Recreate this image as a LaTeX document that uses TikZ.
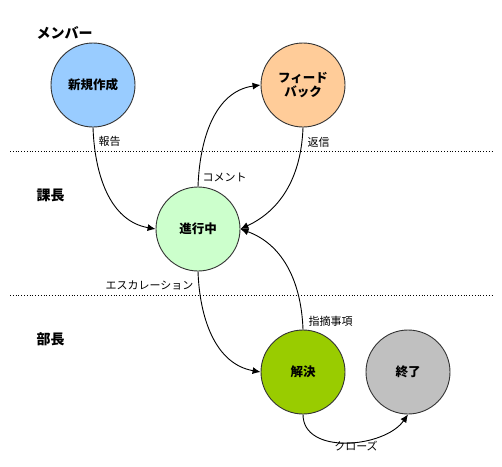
\documentclass[tikz,border=0pt]{standalone}
\usepackage{fontspec}
\setmainfont{Noto Sans CJK JP}
\usetikzlibrary{arrows.meta}
\begin{document}
\begin{tikzpicture}[x=1pt,y=-1pt,
  state/.style={circle,draw=black!80,line width=0.9pt,minimum size=84pt,inner sep=0pt,
    font=\fontsize{12.5}{14.5}\selectfont\bfseries,align=center},
  lane/.style={anchor=west,font=\fontsize{14}{16}\selectfont\bfseries},
  elabel/.style={font=\fontsize{11}{12}\selectfont},
  conn/.style={line width=0.9pt,-{Latex[length=8pt,width=7pt]}},
  sep/.style={dotted,line width=0.8pt}]
\useasboundingbox (0,0) rectangle (502,466);
\fill[white] (0,0) rectangle (502,466);
% lanes
\coordinate (l1a) at (10,151); \coordinate (l1b) at (494,151);
\coordinate (l2a) at (10,295); \coordinate (l2b) at (494,295);
\draw[sep] (l1a) -- (l1b);
\draw[sep] (l2a) -- (l2b);
\node[lane] (member) at (33,33) {メンバー};
\node[lane] (kacho) at (33,195) {課長};
\node[lane] (bucho) at (33,339) {部長};
% states
\node[state,fill={rgb,255:red,153;green,204;blue,255}] (new) at (93,85) {新規作成};
\node[state,fill={rgb,255:red,255;green,204;blue,153}] (fb) at (303,85) {フィード\\バック};
\node[state,fill={rgb,255:red,204;green,255;blue,204}] (prog) at (198,229) {進行中};
\node[state,fill={rgb,255:red,153;green,204;blue,0}] (res) at (303,372) {解決};
\node[state,fill={rgb,255:red,192;green,192;blue,192}] (end) at (408,372) {終了};
% connectors
\draw[conn] (new.south) to[out=-88,in=170] (prog.west);
\draw[conn] (prog.north) to[out=88,in=188] (fb.west);
\draw[conn] (fb.south) to[out=-92,in=25] (prog.east);
\draw[conn] (prog.south) to[out=-88,in=170] (res.west);
\draw[conn] (res.north) to[out=92,in=-20] (prog.east);
\draw[conn] (res.south) to[out=-90,in=-125] (end.south);
% labels
\node[elabel,anchor=west] (lb1) at (95,141) {報告};
\node[elabel,anchor=west] (lb2) at (199,177) {コメント};
\node[elabel,anchor=west] (lb3) at (304,142) {返信};
\node[elabel,anchor=east] (lb4) at (197,285) {エスカレーション};
\node[elabel,anchor=west] (lb5) at (305,321) {指摘事項};
\node[elabel] (lb6) at (356,446) {クローズ};
\end{tikzpicture}
\end{document}
